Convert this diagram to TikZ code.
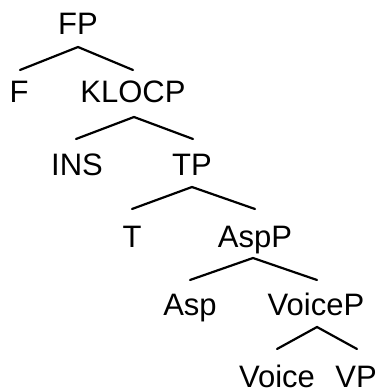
\documentclass[tikz,border=0pt]{standalone}
\usepackage{fontspec}
\setmainfont{Liberation Sans}
\begin{document}
\begin{tikzpicture}[x=1pt,y=-1pt,
  lab/.style={anchor=base,inner sep=0pt,font=\fontsize{31}{31}\selectfont},
  edge/.style={line width=2.2pt,line cap=round}]
\useasboundingbox (0,0) rectangle (378,390);
\node[lab] (FP) at (78,35) {FP};
\node[lab] (F) at (19,103) {F};
\node[lab] (KLOCP) at (133,103) {KLOCP};
\node[lab] (INS) at (77,175) {INS};
\node[lab] (TP) at (192,175) {TP};
\node[lab] (T) at (132,247) {T};
\node[lab] (AspP) at (255,247) {AspP};
\node[lab] (Asp) at (190,315) {Asp};
\node[lab] (VoiceP) at (316,315) {VoiceP};
\node[lab] (Voice) at (277,387) {Voice};
\node[lab] (VP) at (356,387) {VP};
% apexes and branch ends
\coordinate (fpA) at (78,47);
\coordinate (fL) at (20,70);
\coordinate (fR) at (133,70);
\coordinate (kA) at (134,117);
\coordinate (kL) at (76,139);
\coordinate (kR) at (193,139);
\coordinate (tA) at (192,187);
\coordinate (tL) at (132,209);
\coordinate (tR) at (255,209);
\coordinate (aA) at (253,258);
\coordinate (aL) at (190,280);
\coordinate (aR) at (317,280);
\coordinate (vA) at (317,327);
\coordinate (vL) at (277,349);
\coordinate (vR) at (357,349);
\draw[edge] (fL) -- (fpA) -- (fR);
\draw[edge] (kL) -- (kA) -- (kR);
\draw[edge] (tL) -- (tA) -- (tR);
\draw[edge] (aL) -- (aA) -- (aR);
\draw[edge] (vL) -- (vA) -- (vR);
\end{tikzpicture}
\end{document}
